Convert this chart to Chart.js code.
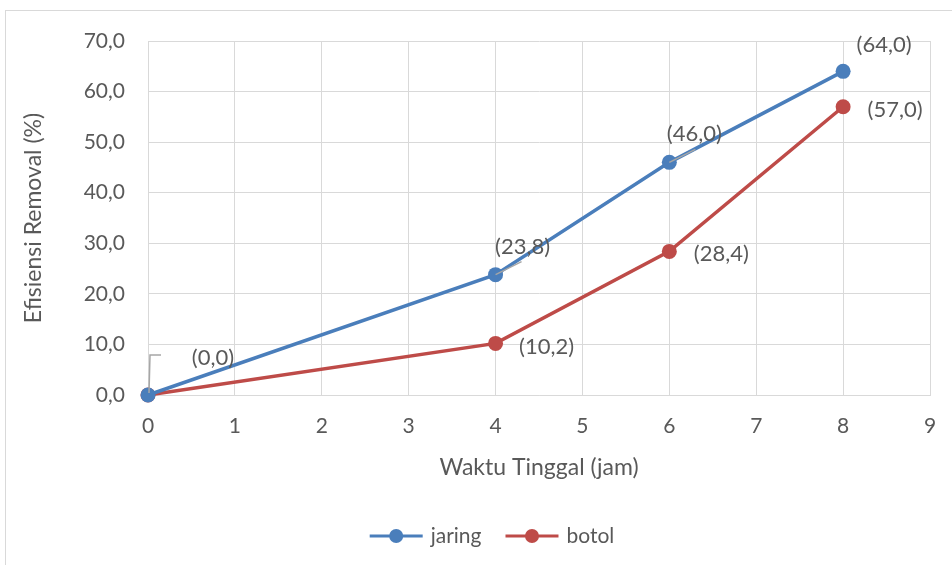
<!DOCTYPE html>
<html>
<head>
<meta charset="utf-8">
<script src="https://cdn.jsdelivr.net/npm/chart.js@4/dist/chart.umd.min.js"></script>
<style>
  html, body { margin: 0; padding: 0; background: #ffffff; }
  #wrap { position: relative; width: 952px; height: 565px; }
</style>
</head>
<body>
<div id="wrap"><canvas id="c" width="952" height="565"></canvas></div>
<script>
// ---- data ----
const timesHours = [0, 4, 6, 8];
const jaringValues = [0, 23.8, 46.0, 64.0];
const botolValues = [0, 10.2, 28.4, 57.0];
const seriesNames = ['jaring', 'botol'];
const xTickValues = [0, 1, 2, 3, 4, 5, 6, 7, 8, 9];
const yTickValues = [0, 10, 20, 30, 40, 50, 60, 70];
const xAxisTitle = 'Waktu Tinggal (jam)';
const yAxisTitle = 'Efisiensi Removal (%)';

// ---- styles ----
const FONT = 'Lato, "Open Sans", sans-serif';
const TEXT = '#595959';
const GRID = '#d9d9d9';
const BLUE = '#4a7ebb';
const RED = '#be4b48';

// label offsets (pixels relative to point) and optional leader lines
const labelStyle = [
  [ {dx: 65, dy: -37, leader: 'elbow'}, {dx: 27, dy: -28, leader: 'diag'}, {dx: 25, dy: -28, leader: 'diag'}, {dx: 41, dy: -26} ],
  [ null, {dx: 51, dy: 3}, {dx: 52, dy: 3}, {dx: 52, dy: 3} ]
];

const fmt = v => '(' + v.toFixed(1).replace('.', ',') + ')';

const decor = {
  id: 'decor',
  beforeDraw(chart) {
    const ctx = chart.ctx;
    ctx.save();
    ctx.strokeStyle = GRID;
    ctx.lineWidth = 1;
    ctx.strokeRect(5.5, 10.5, 1100, 1100);
    ctx.restore();
  },
  afterDatasetsDraw(chart) {
    const ctx = chart.ctx;
    ctx.save();
    ctx.font = '22px ' + FONT;
    ctx.textAlign = 'center';
    ctx.textBaseline = 'middle';
    chart.data.datasets.forEach((ds, di) => {
      const meta = chart.getDatasetMeta(di);
      meta.data.forEach((pt, i) => {
        const st = labelStyle[di][i];
        if (!st) return;
        const lx = pt.x + st.dx, ly = pt.y + st.dy;
        if (st.leader) {
          ctx.strokeStyle = '#a6a6a6';
          ctx.lineWidth = 1.5;
          ctx.beginPath();
          if (st.leader === 'elbow') {
            ctx.moveTo(pt.x + 1, pt.y - 2);
            ctx.lineTo(pt.x + 2, ly - 3);
            ctx.lineTo(pt.x + 13, ly - 3);
          } else {
            ctx.moveTo(pt.x, pt.y);
            ctx.lineTo(pt.x + 26, pt.y - 13);
          }
          ctx.stroke();
        }
        ctx.fillStyle = TEXT;
        ctx.fillText(fmt(ds.data[i].y), lx, ly);
      });
    });
    // legend
    const ly = 536;
    const cx = 492;
    ctx.font = '21px ' + FONT;
    ctx.textAlign = 'left';
    const items = chart.data.datasets.map(d => ({label: d.label, color: d.borderColor, w: ctx.measureText(d.label).width}));
    const seg = 53, gapText = 8, gapItem = 24;
    let total = 0;
    items.forEach((it, k) => { total += seg + gapText + it.w + (k < items.length - 1 ? gapItem : 0); });
    let x = cx - total / 2;
    items.forEach(it => {
      ctx.strokeStyle = it.color;
      ctx.lineWidth = 3;
      ctx.beginPath();
      ctx.moveTo(x, ly); ctx.lineTo(x + seg, ly); ctx.stroke();
      ctx.fillStyle = it.color;
      ctx.beginPath();
      ctx.arc(x + seg / 2, ly, 7, 0, Math.PI * 2);
      ctx.fill();
      ctx.fillStyle = TEXT;
      ctx.fillText(it.label, x + seg + gapText, ly);
      x += seg + gapText + it.w + gapItem;
    });
    ctx.restore();
  }
};

const mk = vals => timesHours.map((t, i) => ({x: t, y: vals[i]}));

new Chart(document.getElementById('c'), {
  type: 'line',
  data: {
    datasets: [
      {label: seriesNames[0], data: mk(jaringValues), borderColor: BLUE, backgroundColor: BLUE, clip: false,
       borderWidth: 3.5, pointRadius: 7.5, pointHoverRadius: 7.5, pointBackgroundColor: BLUE, pointBorderWidth: 0, tension: 0},
      {label: seriesNames[1], data: mk(botolValues), borderColor: RED, backgroundColor: RED, clip: false,
       borderWidth: 3.5, pointRadius: 7.5, pointHoverRadius: 7.5, pointBackgroundColor: RED, pointBorderWidth: 0, tension: 0}
    ]
  },
  options: {
    responsive: false,
    animation: false,
    events: [],
    layout: {padding: {left: 20, top: 41, right: 22, bottom: 84}},
    plugins: {legend: {display: false}, tooltip: {enabled: false}, title: {display: false}},
    scales: {
      x: {
        type: 'linear', min: 0, max: 9,
        afterBuildTicks: s => { s.ticks = xTickValues.map(v => ({value: v})); },
        afterFit: s => { s.height = 86; s.paddingRight = 0; s.paddingLeft = 0; },
        grid: {color: GRID, lineWidth: 1, drawTicks: false},
        border: {color: GRID, width: 1},
        ticks: {color: TEXT, font: {family: FONT, size: 21}, padding: 19, callback: v => String(v)},
        title: {display: true, text: xAxisTitle, color: TEXT, font: {family: FONT, size: 23}, padding: 0}
      },
      y: {
        type: 'linear', min: 0, max: 70,
        afterBuildTicks: s => { s.ticks = yTickValues.map(v => ({value: v})); },
        afterFit: s => { s.width = 128; s.paddingTop = 0; s.paddingBottom = 0; },
        grid: {color: GRID, lineWidth: 1, drawTicks: false},
        border: {color: GRID, width: 1},
        ticks: {color: TEXT, font: {family: FONT, size: 21}, padding: 23, callback: v => v.toFixed(1).replace('.', ',')},
        title: {display: true, text: yAxisTitle, color: TEXT, font: {family: FONT, size: 23}, padding: 0}
      }
    }
  },
  plugins: [decor]
});
</script>
</body>
</html>
